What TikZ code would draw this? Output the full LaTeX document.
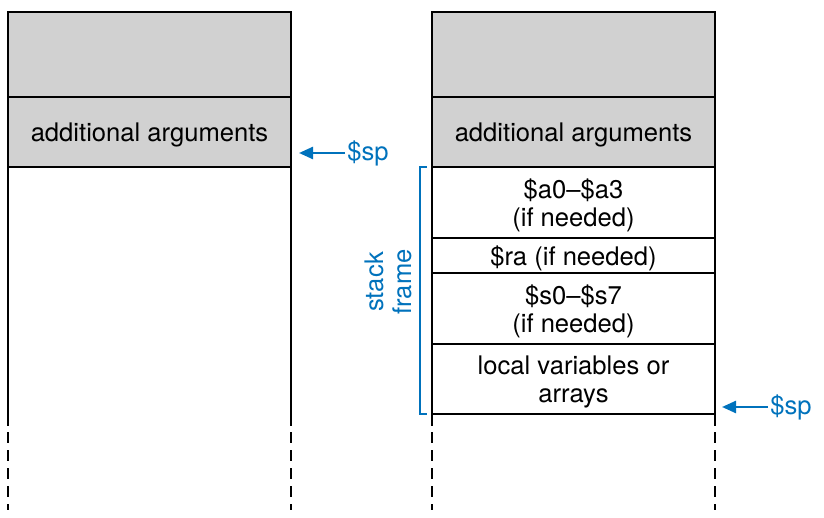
\documentclass[tikz,border=0pt]{standalone}
\usepackage{fontspec}
\setmainfont{TeX Gyre Heros}
\usetikzlibrary{arrows.meta, positioning}
\definecolor{spblue}{RGB}{0,114,188}
\definecolor{cellgray}{RGB}{209,209,209}

\begin{document}
\begin{tikzpicture}[
  x=0.5pt, y=-0.5pt,
  font=\fontsize{12.8}{14}\selectfont,
  cell/.style={draw=black, line width=0.75pt, minimum width=141.5pt,
               inner sep=0pt, outer sep=0pt, text depth=0pt,
               align=center, anchor=north},
  shaded/.style={cell, fill=cellgray},
  spptr/.style={-{Triangle[length=7pt, width=6pt]}, spblue, line width=1.2pt},
  sptext/.style={text=spblue, inner sep=1pt},
  edge/.style={line width=0.75pt},
  cont/.style={line width=0.75pt, dash pattern=on 5.5pt off 3.5pt}
]
  \useasboundingbox (0,0) rectangle (824,518);

  % caller's stack (before the call)
  \node[shaded, minimum height=42.5pt] (ltop) at (149.5,12) {};
  \node[shaded, minimum height=35pt, below=0pt of ltop] (largs) {additional arguments};
  \coordinate (lbotw) at (8,426);
  \coordinate (lbote) at (291,426);
  \draw[edge] (largs.south west) -- (lbotw);
  \draw[edge] (largs.south east) -- (lbote);
  \draw[cont] ([yshift=-3pt]lbotw) -- ++(0,78);
  \draw[cont] ([yshift=-3pt]lbote) -- ++(0,78);

  \node[sptext, anchor=west] (spold) at (345,153) {\$sp};
  \coordinate (spoldtip) at (299,153);
  \draw[spptr] (spold) -- (spoldtip);

  % stack after the frame is allocated
  \node[shaded, minimum height=42.5pt] (rtop) at (573.5,12) {};
  \node[shaded, minimum height=35pt, below=0pt of rtop] (rargs) {additional arguments};
  \node[cell, minimum height=35.5pt, below=0pt of rargs] (ra03) {\$a0--\$a3\\(if needed)};
  \node[cell, minimum height=17.5pt, below=0pt of ra03] (rra) {\$ra (if needed)};
  \node[cell, minimum height=35.5pt, below=0pt of rra] (rs07) {\$s0--\$s7\\(if needed)};
  \node[cell, minimum height=35pt, below=0pt of rs07] (rloc) {local variables or\\arrays};
  \coordinate (rbotw) at (432,426);
  \coordinate (rbote) at (715,426);
  \draw[edge] (rloc.south west) -- (rbotw);
  \draw[edge] (rloc.south east) -- (rbote);
  \draw[cont] ([yshift=-3pt]rbotw) -- ++(0,78);
  \draw[cont] ([yshift=-3pt]rbote) -- ++(0,78);

  \draw[spblue, line width=0.6pt] ([xshift=-2.5pt]ra03.north west) -- ++(-7,0)
    |- ([xshift=-2.5pt]rloc.south west);
  \node[sptext, rotate=90, align=center] (frame) at (388,282) {stack\\frame};

  \node[sptext, anchor=west] (spnew) at (768,407) {\$sp};
  \coordinate (spnewtip) at (722,407);
  \draw[spptr] (spnew) -- (spnewtip);
\end{tikzpicture}
\end{document}
